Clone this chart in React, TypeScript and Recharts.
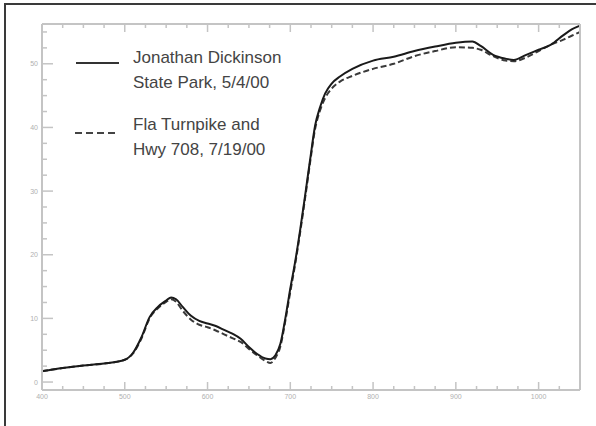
import React from 'react';
import { LineChart, Line, XAxis, YAxis } from 'recharts';

const wavelengths = [
  400, 425, 450, 475, 500, 510, 520, 530, 540, 550, 556, 562, 570, 580, 590, 600, 610, 620, 630, 640,
  650, 660, 670, 676, 682, 688, 694, 700, 706, 712, 718, 724, 730, 736, 742, 750, 760, 775, 800, 825,
  850, 875, 900, 920, 930, 945, 960, 970, 985, 1000, 1015, 1030, 1040, 1050,
];

const dickinson = [
  1.7, 2.2, 2.6, 2.9, 3.5, 4.6, 7.0, 10.2, 11.8, 12.8, 13.3, 13.0, 11.8, 10.4, 9.6, 9.2, 8.8, 8.2, 7.6, 6.8,
  5.5, 4.4, 3.7, 3.6, 4.2, 6.0, 10.0, 14.7, 19.0, 24.0, 29.4, 35.0, 40.3, 43.2, 45.3, 46.9, 48.0, 49.2, 50.5, 51.1,
  52.0, 52.7, 53.3, 53.5, 52.8, 51.4, 50.8, 50.6, 51.4, 52.2, 53.0, 54.5, 55.4, 56.0,
];

const turnpike = [
  1.7, 2.2, 2.6, 2.9, 3.5, 4.5, 6.8, 10.0, 11.6, 12.6, 13.0, 12.6, 11.2, 9.8, 9.0, 8.6, 8.1, 7.5, 6.9, 6.3,
  5.2, 4.2, 3.3, 3.0, 3.8, 5.6, 9.6, 14.2, 18.6, 23.6, 29.0, 34.6, 39.8, 42.7, 44.6, 46.1, 47.2, 48.1, 49.2, 50.0,
  51.2, 52.0, 52.6, 52.5, 52.2, 51.2, 50.5, 50.4, 51.0, 52.0, 53.0, 53.8, 54.4, 55.0,
];

const xTicks = [
  400, 425, 450, 475, 500, 525, 550, 575, 600, 625, 650, 675, 700, 725, 750, 775, 800, 825, 850, 875,
  900, 925, 950, 975, 1000, 1025,
];
const xLabels = [400, 500, 600, 700, 800, 900, 1000];

const yTicks = [
  0, 2.5, 5, 7.5, 10, 12.5, 15, 17.5, 20, 22.5, 25, 27.5, 30, 32.5, 35, 37.5, 40, 42.5, 45, 47.5, 50, 52.5, 55,
];
const yLabels = [0, 10, 20, 30, 40, 50];

const data = wavelengths.map((wl, i) => ({ wl, dickinson: dickinson[i], turnpike: turnpike[i] }));

const AXIS = '#c4c4c4';
const LABEL = '#b0b0b0';

const XTick = (props: any) => {
  const { x, y, payload, side } = props;
  const major = xLabels.includes(payload.value);
  const len = major ? 8 : 4;
  const dir = side === 'top' ? 1 : -1;
  return (
    <g>
      <line x1={x} y1={y} x2={x} y2={y + dir * len} stroke={AXIS} strokeWidth={1.5} />
      {side === 'bottom' && major && (
        <text x={x} y={y + 9} textAnchor="middle" fontSize={7} fill={LABEL} fontFamily="Liberation Sans">
          {payload.value}
        </text>
      )}
    </g>
  );
};

const YTick = (props: any) => {
  const { x, y, payload, side } = props;
  const major = yLabels.includes(payload.value);
  const len = major ? 11 : 5;
  const dir = side === 'left' ? 1 : -1;
  return (
    <g>
      <line x1={x} y1={y} x2={x + dir * len} y2={y} stroke={AXIS} strokeWidth={1.5} />
      {side === 'left' && major && (
        <text x={x - 4} y={y + 2.5} textAnchor="end" fontSize={7} fill={LABEL} fontFamily="Liberation Sans">
          {payload.value}
        </text>
      )}
    </g>
  );
};

const legendText: React.CSSProperties = {
  position: 'absolute',
  fontFamily: 'Liberation Sans, Arial, sans-serif',
  fontSize: 17,
  color: '#444',
  lineHeight: '25px',
  whiteSpace: 'nowrap',
};

// legend drawn as an overlay so it does not eat into the plot area
const LegendBox = () => (
  <div style={{ position: 'absolute', left: 70, top: 40, width: 260, height: 130 }}>
    <svg style={{ position: 'absolute', left: 0, top: 0 }} width={60} height={130}>
      <line x1={6} y1={23} x2={49} y2={23} stroke="#333" strokeWidth={2} />
      <line x1={5} y1={93} x2={48} y2={93} stroke="#444" strokeWidth={2} strokeDasharray="7 4" />
    </svg>
    <div style={{ ...legendText, left: 63, top: 5 }}>
      Jonathan Dickinson
      <br />
      State Park, 5/4/00
    </div>
    <div style={{ ...legendText, left: 63, top: 72 }}>
      Fla Turnpike and
      <br />
      Hwy 708, 7/19/00
    </div>
  </div>
);

export default function App() {
  return (
    <div style={{ position: 'absolute', left: 0, top: 0, width: 596, height: 426, background: '#fff' }}>
      <div
        style={{
          position: 'absolute',
          left: 4,
          top: 3,
          right: 0,
          bottom: 0,
          borderLeft: '2px solid #3a3a3a',
          borderTop: '2px solid #3a3a3a',
        }}
      />
      <div style={{ position: 'absolute', left: 0, top: 0 }}>
        <LineChart
          width={596}
          height={426}
          data={data}
          margin={{ top: 23, right: 15, bottom: 35, left: 41 }}
        >
          <XAxis
            xAxisId="bottom"
            dataKey="wl"
            type="number"
            domain={[400, 1050]}
            ticks={xTicks}
            height={1}
            tickSize={0}
            tickMargin={0}
            stroke={AXIS}
            strokeWidth={2}
            tick={<XTick side="bottom" />}
            interval={0}
          />
          <XAxis
            xAxisId="top"
            orientation="top"
            dataKey="wl"
            type="number"
            domain={[400, 1050]}
            ticks={xTicks}
            height={1}
            tickSize={0}
            tickMargin={0}
            stroke={AXIS}
            strokeWidth={2}
            tick={<XTick side="top" />}
            interval={0}
          />
          <YAxis
            yAxisId="left"
            type="number"
            domain={[-1.25, 56.25]}
            ticks={yTicks}
            width={1}
            tickSize={0}
            tickMargin={0}
            stroke={AXIS}
            strokeWidth={2}
            tick={<YTick side="left" />}
            interval={0}
          />
          <YAxis
            yAxisId="right"
            orientation="right"
            type="number"
            domain={[-1.25, 56.25]}
            ticks={yTicks}
            width={1}
            tickSize={0}
            tickMargin={0}
            stroke={AXIS}
            strokeWidth={2}
            tick={<YTick side="right" />}
            interval={0}
          />
          <Line
            xAxisId="bottom"
            yAxisId="left"
            dataKey="turnpike"
            type="monotone"
            stroke="#3a3a3a"
            strokeWidth={2}
            strokeDasharray="6 3"
            dot={false}
            isAnimationActive={false}
          />
          <Line
            xAxisId="bottom"
            yAxisId="left"
            dataKey="dickinson"
            type="monotone"
            stroke="#1a1a1a"
            strokeWidth={2}
            dot={false}
            isAnimationActive={false}
          />
        </LineChart>
      </div>
      <LegendBox />
    </div>
  );
}
